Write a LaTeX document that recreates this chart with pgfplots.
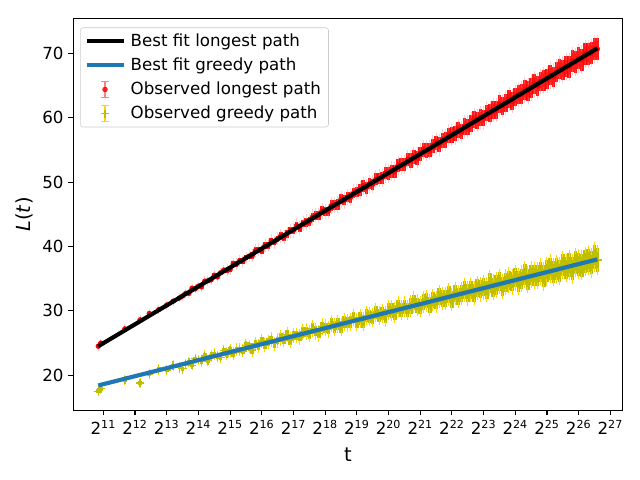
\documentclass[border=0pt]{standalone}
\usepackage{fontspec}
\setmainfont{DejaVu Sans}
\usepackage{pgfplots}
\usepackage{pgfplotstable}
\pgfplotsset{compat=1.18}
\definecolor{mplblue}{HTML}{1F77B4}
\definecolor{mplolive}{HTML}{BFBF00}
\definecolor{mplgold}{HTML}{FFD700}
\definecolor{mplsalmon}{HTML}{FF8080}

\pgfplotstableread{
x yr er yg eg
10.84 24.50 0.2 17.50 0.3
10.92 25.00 0.2 17.90 0.3
11.68 27.20 0.2 19.30 0.3
12.16 28.60 0.2 18.80 0.3
12.45 29.60 0.2 20.20 0.3
12.75 30.20 0.2 20.90 0.3
13.00 30.90 0.2 20.80 0.3
13.20 31.50 0.2 21.50 0.3
13.40 32.00 0.2 21.20 0.3
13.50 32.30 0.2 21.00 0.3
13.6 32.73 0.2 21.71 0.3
13.7 32.70 0.2 22.01 0.3
13.8 33.52 0.2 21.54 0.3
13.9 33.41 0.2 22.56 0.3
14.0 33.83 0.2 22.33 0.3
14.1 33.72 0.3 22.21 0.4
14.2 34.61 0.3 23.00 0.4
14.3 34.67 0.3 22.28 0.4
14.4 34.80 0.3 22.95 0.4
14.5 35.54 0.3 23.25 0.4
14.6 35.27 0.3 22.89 0.4
14.7 35.92 0.3 22.72 0.4
14.8 36.34 0.3 23.86 0.4
14.9 36.31 0.4 23.39 0.5
15.0 36.41 0.4 23.81 0.5
15.1 37.38 0.4 23.34 0.5
15.2 37.27 0.4 23.94 0.5
15.3 37.77 0.4 23.95 0.5
15.4 37.66 0.4 23.77 0.5
15.5 38.28 0.4 24.61 0.5
15.6 38.49 0.4 24.50 0.5
15.7 38.58 0.5 23.90 0.6
15.8 39.36 0.5 24.87 0.6
15.9 39.49 0.5 24.57 0.6
16.0 39.31 0.5 25.30 0.6
16.1 40.16 0.5 24.70 0.6
16.2 40.17 0.5 25.12 0.6
16.3 40.87 0.5 25.55 0.6
16.4 40.68 0.5 24.89 0.6
16.5 41.18 0.5 25.38 0.6
16.6 41.67 0.6 25.80 0.7
16.7 41.44 0.6 25.51 0.7
16.8 41.98 0.6 26.35 0.7
16.9 42.47 0.6 25.46 0.7
17.0 42.49 0.6 26.18 0.7
17.1 43.26 0.6 26.18 0.7
17.2 42.87 0.6 25.95 0.7
17.3 43.57 0.6 26.73 0.7
17.4 43.78 0.7 26.74 0.8
17.5 43.84 0.7 26.44 0.8
17.6 44.57 0.7 27.23 0.8
17.7 44.78 0.7 26.81 0.8
17.8 44.80 0.7 26.51 0.8
17.9 45.53 0.7 27.54 0.8
18.0 45.47 0.7 27.36 0.8
18.1 45.48 0.7 27.13 0.8
18.2 46.37 0.8 28.03 0.9
18.3 46.47 0.8 27.50 0.9
18.4 46.52 0.8 27.92 0.9
18.5 47.34 0.8 27.51 0.9
18.6 47.19 0.8 28.29 0.9
18.7 47.68 0.8 28.17 0.9
18.8 47.62 0.8 28.24 0.9
18.9 48.35 0.8 28.96 0.9
19.0 48.49 0.8 28.19 0.9
19.1 48.74 0.9 28.85 1.0
19.2 49.43 0.9 28.32 1.0
19.3 49.13 0.9 29.22 1.0
19.4 49.78 0.9 29.11 1.0
19.5 49.64 0.9 28.93 1.0
19.6 50.45 0.9 29.71 1.0
19.7 50.58 0.9 29.30 1.0
19.8 50.68 0.9 29.54 1.0
19.9 51.41 1.0 29.13 1.1
20.0 51.35 1.0 30.15 1.1
20.1 51.72 1.0 30.04 1.1
20.2 51.65 1.0 29.74 1.1
20.3 52.55 1.0 30.65 1.1
20.4 52.68 1.0 30.11 1.1
20.5 52.70 1.0 30.65 1.1
20.6 53.51 1.0 30.12 1.1
20.7 53.36 1.1 30.72 1.2
20.8 53.94 1.1 31.33 1.2
20.9 53.79 1.1 30.85 1.2
21.0 54.41 1.1 30.68 1.2
21.1 55.02 1.1 31.34 1.2
21.2 54.91 1.1 31.58 1.2
21.3 55.01 1.1 30.93 1.2
21.4 55.66 1.1 31.65 1.2
21.5 56.04 1.1 31.42 1.2
21.6 55.81 1.2 32.20 1.3
21.7 56.50 1.2 31.91 1.3
21.8 56.56 1.2 31.91 1.3
21.9 57.29 1.2 32.52 1.3
22.0 57.31 1.2 31.74 1.3
22.1 57.52 1.2 32.64 1.3
22.2 58.13 1.2 32.23 1.3
22.3 57.83 1.2 32.71 1.3
22.4 58.64 1.3 33.26 1.4
22.5 58.58 1.3 32.72 1.4
22.6 59.11 1.3 33.21 1.4
22.7 59.68 1.3 32.73 1.4
22.8 59.54 1.3 33.57 1.4
22.9 60.07 1.3 33.34 1.4
23.0 59.97 1.3 33.64 1.4
23.1 60.74 1.3 33.29 1.4
23.2 60.79 1.4 34.31 1.5
23.3 61.21 1.4 33.66 1.5
23.4 61.18 1.4 34.02 1.5
23.5 62.08 1.4 34.57 1.5
23.6 61.85 1.4 33.79 1.5
23.7 62.30 1.4 34.45 1.5
23.8 62.88 1.4 34.76 1.5
23.9 62.57 1.4 34.52 1.5
24.0 63.23 1.4 35.13 1.5
24.1 63.64 1.5 34.59 1.6
24.2 63.69 1.5 34.96 1.6
24.3 64.31 1.5 35.62 1.6
24.4 64.16 1.5 34.84 1.6
24.5 64.62 1.5 35.57 1.6
24.6 65.27 1.5 35.51 1.6
24.7 64.96 1.5 35.46 1.6
24.8 65.66 1.5 36.06 1.6
24.9 65.83 1.6 35.35 1.7
25.0 66.01 1.6 36.13 1.7
25.1 66.62 1.6 36.56 1.7
25.2 66.35 1.6 36.02 1.7
25.3 67.09 1.6 36.44 1.7
25.4 67.58 1.6 36.15 1.7
25.5 67.44 1.6 37.17 1.7
25.6 67.93 1.6 36.64 1.7
25.7 67.94 1.7 37.12 1.8
25.8 68.84 1.7 36.53 1.8
25.9 68.69 1.7 37.49 1.8
26.0 69.23 1.7 37.25 1.8
26.1 69.04 1.7 37.08 1.8
26.2 69.89 1.7 37.68 1.8
26.3 69.95 1.7 37.81 1.8
26.4 70.04 1.7 37.45 1.8
26.5 70.66 1.7 38.36 1.8
26.59 70.70 1.7 37.90 1.8
}\obs

\begin{document}
\begin{tikzpicture}
\path[use as bounding box] (-52.8pt,-50pt) rectangle (408pt,295.6pt);
\begin{axis}[
  at={(0,0)}, anchor=south west, scale only axis,
  width=395.3pt, height=282.6pt,
  clip mode=individual,
  xmin=10.053, xmax=27.379, ymin=14.5, ymax=75.5,
  xtick={11,...,27},
  xticklabels={2\textsuperscript{11},2\textsuperscript{12},2\textsuperscript{13},2\textsuperscript{14},2\textsuperscript{15},2\textsuperscript{16},2\textsuperscript{17},2\textsuperscript{18},2\textsuperscript{19},2\textsuperscript{20},2\textsuperscript{21},2\textsuperscript{22},2\textsuperscript{23},2\textsuperscript{24},2\textsuperscript{25},2\textsuperscript{26},2\textsuperscript{27}},
  ytick={20,30,40,50,60,70},
  tick align=outside, major tick length=3.5pt,
  tick style={line width=0.8pt, black},
  axis line style={line width=0.8pt},
  xtick pos=bottom, ytick pos=left,
  ticklabel style={font=\fontsize{12}{14}\selectfont},
  /pgf/number format/assume math mode=true,
  xlabel={t}, ylabel={\textit{L}(\textit{t})},
  label style={font=\fontsize{14}{17}\selectfont},
  xlabel style={yshift=-3pt},
  legend cell align=left,
  legend style={at={(0.0122,0.976)}, anchor=north west,
    font=\fontsize{12}{14}\selectfont,
    draw=black!20, fill=white, fill opacity=0.8, text opacity=1,
    rounded corners=2pt, inner xsep=3.5pt, inner ysep=2.3pt, row sep=2.8pt},
]
% observed longest path
\addplot[forget plot, only marks, mark=*, mark size=1.7pt, red, mark options={draw=red, fill=red},
  error bars/.cd, y dir=both, y explicit,
  error bar style={line width=2.6pt, red, opacity=0.9},
  error mark options={mark size=2.3pt, line width=0.6pt, mplsalmon, opacity=0.4}]
  table[x=x, y=yr, y error=er]{\obs};
% observed greedy path
\addplot[forget plot, only marks, mark=+, mark size=3pt, mplolive, mark options={line width=1pt, draw=mplolive},
  error bars/.cd, y dir=both, y explicit,
  error bar style={line width=2.6pt, mplolive},
  error mark options={mark size=2.3pt, line width=0.7pt, mplgold}]
  table[x=x, y=yg, y error=eg]{\obs};
% fits
\addplot[black, line width=3pt,
  legend image code/.code={\path[draw=none] (0cm,0cm) -- (1.08cm,0cm); \draw[black, line width=3pt] (0.05cm,0cm) -- (0.98cm,0cm);}]
  coordinates {(10.84,24.5) (26.59,70.8)};
\addlegendentry{Best fit longest path}
\addplot[mplblue, line width=3pt,
  legend image code/.code={\path[draw=none] (0cm,0cm) -- (1.08cm,0cm); \draw[mplblue, line width=3pt] (0.05cm,0cm) -- (0.98cm,0cm);}]
  coordinates {(10.84,18.4) (26.59,38.0)};
\addlegendentry{Best fit greedy path}
\addlegendimage{legend image code/.code={
  \path[draw=none] (0cm,0cm) -- (1.08cm,0cm);
  \draw[mplsalmon, line width=0.8pt] (0.5cm,-0.2cm) -- (0.5cm,0.2cm);
  \draw[mplsalmon, line width=0.8pt] (0.41cm,-0.2cm) -- (0.59cm,-0.2cm);
  \draw[mplsalmon, line width=0.8pt] (0.41cm,0.2cm) -- (0.59cm,0.2cm);
  \fill[red] (0.5cm,0cm) circle (1.7pt);}}
\addlegendentry{Observed longest path}
\addlegendimage{legend image code/.code={
  \path[draw=none] (0cm,0cm) -- (1.08cm,0cm);
  \draw[mplgold, line width=0.8pt] (0.5cm,-0.2cm) -- (0.5cm,0.2cm);
  \draw[mplgold, line width=0.8pt] (0.41cm,-0.2cm) -- (0.59cm,-0.2cm);
  \draw[mplgold, line width=0.8pt] (0.41cm,0.2cm) -- (0.59cm,0.2cm);
  \draw[mplolive, line width=1pt] (0.4cm,0cm) -- (0.6cm,0cm);
  \draw[mplolive, line width=1pt] (0.5cm,-0.1cm) -- (0.5cm,0.1cm);}}
\addlegendentry{Observed greedy path}
\end{axis}
\end{tikzpicture}
\end{document}
